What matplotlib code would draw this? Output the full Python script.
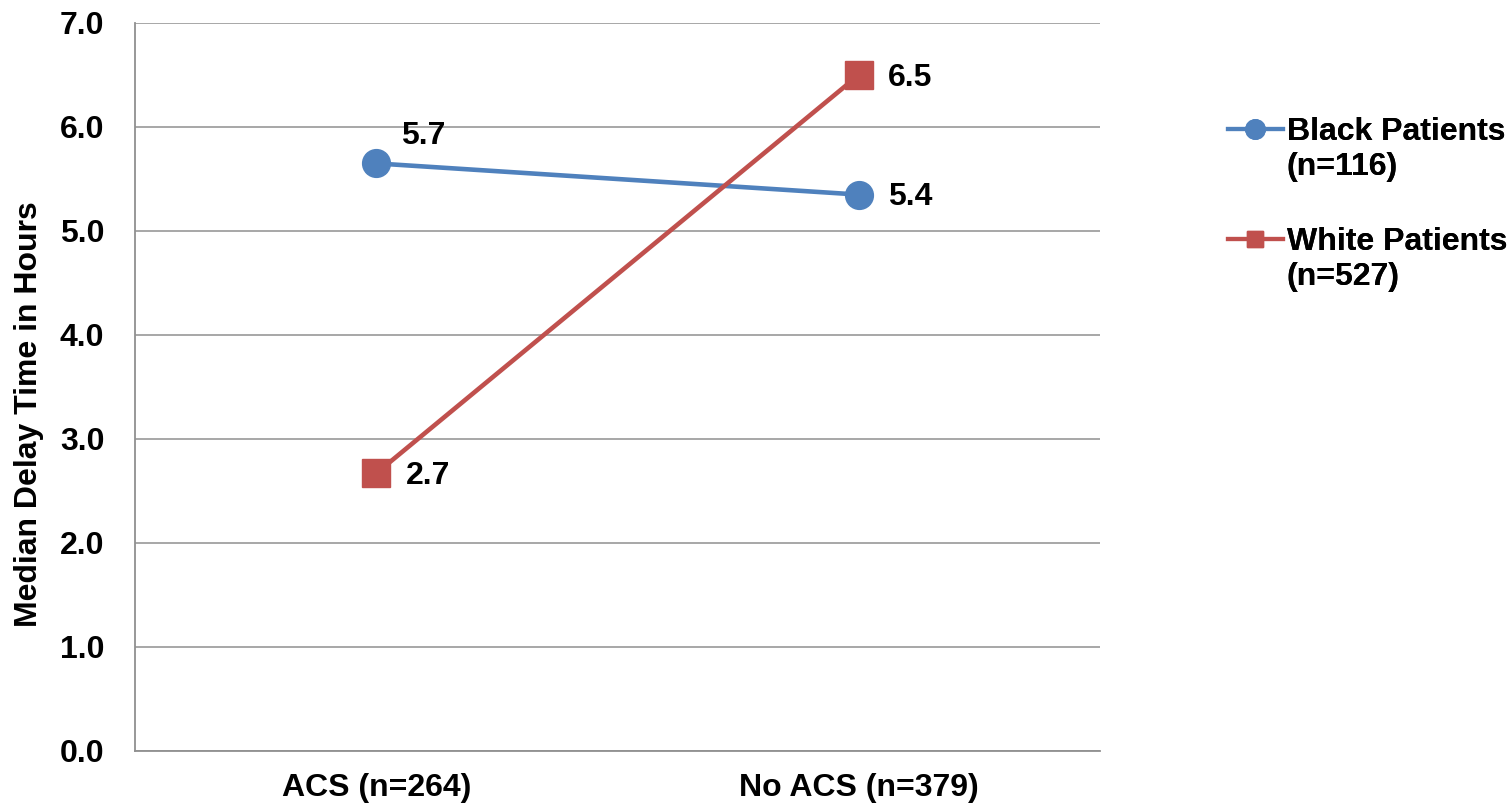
import matplotlib
matplotlib.use("Agg")
import matplotlib.pyplot as plt
from matplotlib.lines import Line2D

categories = ["ACS (n=264)", "No ACS (n=379)"]
black_values = [5.65, 5.35]
white_values = [2.67, 6.5]
black_labels = ["5.7", "5.4"]
white_labels = ["2.7", "6.5"]
series_names = ["Black Patients", "White Patients"]
series_counts = ["(n=116)", "(n=527)"]
y_ticks = [0, 1, 2, 3, 4, 5, 6, 7]

plt.rcParams['font.family'] = ['Liberation Sans', 'DejaVu Sans']
plt.rcParams['font.weight'] = 'bold'
FS = 23

W, H = 1510, 807
fig = plt.figure(figsize=(W / 100, H / 100), dpi=100)
ax = fig.add_axes([135 / W, 1 - 751 / H, (1100 - 135) / W, (751 - 23) / H])

x = list(range(len(categories)))
blue = "#4F81BD"
red = "#C0504D"
l1, = ax.plot(x, black_values, color=blue, lw=3.3, marker="o", ms=20, zorder=3)
l2, = ax.plot(x, white_values, color=red, lw=3.3, marker="s", ms=20, zorder=3)

offs_black = [(18, 20), (21, -2)]
offs_white = [(21, -2), (21, -2)]
for xi, v, lab, off in zip(x, black_values, black_labels, offs_black):
    ax.annotate(lab, (xi, v), xytext=off, textcoords="offset points",
                ha="left", va="center", fontsize=FS, fontweight="bold")
for xi, v, lab, off in zip(x, white_values, white_labels, offs_white):
    ax.annotate(lab, (xi, v), xytext=off, textcoords="offset points",
                ha="left", va="center", fontsize=FS, fontweight="bold")

ax.set_xlim(-0.5, 1.5)
ax.set_ylim(0, 7)
ax.set_yticks(y_ticks)
ax.set_yticklabels([f"{t:.1f}" for t in y_ticks], fontsize=FS, fontweight="bold")
ax.set_xticks(x)
ax.set_xticklabels(categories, fontsize=FS, fontweight="bold")
ax.tick_params(axis="y", length=0, pad=22)
ax.tick_params(axis="x", length=0, pad=16)
ax.yaxis.grid(True, color="#a0a0a0", lw=1.3)
ax.set_axisbelow(True)
for s in ["top", "right"]:
    ax.spines[s].set_visible(False)
for s in ["left", "bottom"]:
    ax.spines[s].set_color("#909090")
    ax.spines[s].set_linewidth(1.3)
ax.set_ylabel("Median Delay Time in Hours", fontsize=FS, fontweight="bold",
              va="center", ha="center")
ax.yaxis.set_label_coords((29 - 135) / 965, (751 - 414) / 728)

blank = Line2D([], [], color="none")
proxies = [Line2D([], [], color=blue, lw=3, marker="o", ms=14),
           Line2D([], [], color=red, lw=3, marker="s", ms=11)]
tops = [117, 227]
for prox, name, cnt, top in zip(proxies, series_names, series_counts, tops):
    leg = fig.legend([prox, blank], [name, cnt], loc="upper left",
                     bbox_to_anchor=(1228 / W, 1 - top / H), frameon=False,
                     prop={"size": FS, "weight": "bold"}, handlelength=1.72,
                     handletextpad=0.12, labelspacing=0.15, borderpad=0,
                     borderaxespad=0)
    fig.add_artist(leg)

fig.savefig("out.png", dpi=100)
